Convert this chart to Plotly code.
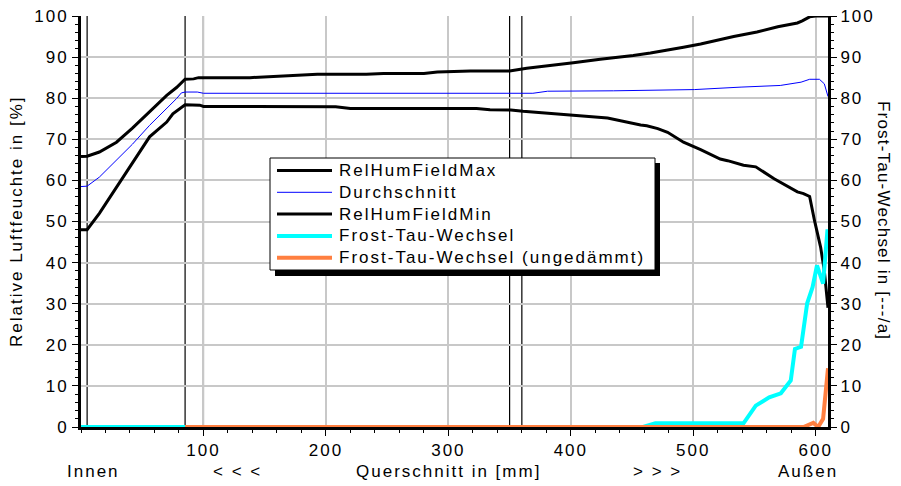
import plotly.graph_objects as go

# ---------------- data ----------------
series_names = ["RelHumFieldMax", "Durchschnitt", "RelHumFieldMin",
                "Frost-Tau-Wechsel", "Frost-Tau-Wechsel (ungedämmt)"]

x_max = [0, 5, 15, 29, 42, 56, 70, 78, 85, 92, 96, 100, 138, 193, 233, 247, 280, 291, 318,
         350, 355, 364, 402, 424, 451, 465, 492, 506, 533, 552, 569, 585, 589, 595, 600, 610]
y_max = [65.8, 65.9, 66.9, 69.3, 72.7, 76.6, 80.7, 82.6, 84.6, 84.7, 85.0, 85.0, 85.0, 85.8, 85.8,
         86.0, 86.0, 86.4, 86.6, 86.6, 86.8, 87.3, 88.6, 89.5, 90.4, 91.0, 92.4, 93.2, 95.0,
         96.1, 97.4, 98.3, 98.8, 99.8, 100.0, 100.0]

x_avg = [0, 5, 15, 29, 42, 56, 70, 78, 82, 85, 95, 98, 100, 369, 381, 435, 495, 501, 539,
         571, 588, 595, 603, 607, 610]
y_avg = [58.5, 58.6, 60.8, 64.9, 68.8, 73.4, 77.5, 79.9, 81.3, 81.5, 81.5, 81.4, 81.2, 81.2,
         81.7, 81.8, 82.1, 82.1, 82.7, 83.1, 83.9, 84.6, 84.6, 83.5, 80.4]

x_min = [0, 5, 15, 29, 42, 56, 70, 75, 85, 97, 100, 200, 208, 220, 323, 334, 351, 361, 383,
         402, 424, 430, 457, 462, 471, 479, 492, 506, 522, 528, 541, 551, 566, 585, 590, 595,
         599, 604, 607, 610]
y_min = [48.0, 48.0, 52.0, 58.4, 64.5, 70.6, 74.2, 76.2, 78.4, 78.3, 78.0, 78.0, 77.9, 77.5,
         77.5, 77.2, 77.1, 76.8, 76.3, 76.0, 75.5, 75.2, 73.5, 73.3, 72.6, 71.7, 69.3, 67.5,
         65.2, 64.8, 63.7, 63.3, 60.4, 57.2, 56.8, 56.1, 50.2, 43.7, 38.0, 29.0]

x_ftw = [0, 459, 469, 541, 551, 562, 571.5, 579.6, 583, 588, 593, 597.4, 601, 606, 609.6]
y_ftw = [0, 0, 0.9, 0.9, 5.2, 7.2, 8.2, 11.3, 19.0, 19.5, 30.1, 34.0, 39.3, 34.9, 48.1]

x_ftw_u = [85, 590, 598, 602, 606, 610]
y_ftw_u = [0, 0, 1.0, 0, 2.0, 14.3]

layer_bounds = [5, 85, 100, 350, 360]

x_ticks = [100, 200, 300, 400, 500, 600]
y_ticks = list(range(0, 101, 10))

bottom_labels = ["Innen", "< < <", "Querschnitt in [mm]", "> > >", "Außen"]
bottom_label_pos = [10, 128, 300, 471, 594]

left_title = "Relative Luftfeuchte in [%]"
right_title = "Frost-Tau-Wechsel in [---/a]"

# ---------------- figure ----------------
FONT = "Liberation Sans, Arial, sans-serif"
FS = 17


def sp(t, ls=2):
    """wide letter spacing like the original chart"""
    return f'<span style="letter-spacing:{ls}px">{t}</span>'


fig = go.Figure()

styles = [
    dict(color="black", width=3),
    dict(color="#0000ff", width=1),
    dict(color="black", width=3),
    dict(color="#00ffff", width=4),
    dict(color="#ff7f40", width=4),
]
xs = [x_max, x_avg, x_min, x_ftw, x_ftw_u]
ys = [y_max, y_avg, y_min, y_ftw, y_ftw_u]
axes = ["y", "y", "y", "y2", "y2"]
for name, xv, yv, st, ax in zip(series_names, xs, ys, styles, axes):
    fig.add_trace(go.Scatter(x=xv, y=yv, mode="lines", name=name, line=st, yaxis=ax,
                             showlegend=False))

# layer boundary lines
for xb in layer_bounds:
    fig.add_shape(type="line", xref="x", yref="paper", x0=xb, x1=xb, y0=0, y1=1,
                  line=dict(color="black", width=1.2), layer="between")

# page geometry: the page body has an 8px margin, so the figure is offset by 8px
OFF = 8
FIG_W, FIG_H = 901 - OFF, 486 - OFF
# plot area in page pixels
L, R, T, B = 81, 828, 16, 427
W, H = R - L, B - T


def px(x):
    return (x - L) / W


def py(y):
    return (B - y) / H


# legend: shadow, box, entries
fig.add_shape(type="rect", xref="paper", yref="paper", x0=px(275), x1=px(660),
              y0=py(276), y1=py(163), fillcolor="black", line=dict(width=0), layer="above")
fig.add_shape(type="rect", xref="paper", yref="paper", x0=px(270), x1=px(655),
              y0=py(270), y1=py(158), fillcolor="white", line=dict(color="black", width=1),
              layer="above")
row0, row_gap = 170.5, 21.8
for i, (name, st) in enumerate(zip(series_names, styles)):
    yrow = row0 + i * row_gap
    fig.add_shape(type="line", xref="paper", yref="paper", x0=px(277), x1=px(332),
                  y0=py(yrow), y1=py(yrow), line=st, layer="above")
    fig.add_annotation(text=sp(name, 2), x=px(337), y=py(yrow), xref="paper", yref="paper",
                       showarrow=False, xanchor="left", yanchor="middle",
                       font=dict(size=FS, color="black"))

for txt, xp in zip(bottom_labels, bottom_label_pos):
    fig.add_annotation(text=sp(txt), x=xp, y=py(471), xref="x", yref="paper", showarrow=False,
                       xanchor="center", yanchor="middle", font=dict(size=FS, color="black"))

fig.add_annotation(text=sp(left_title, 2), x=px(17), y=py(221), xref="paper", yref="paper",
                   showarrow=False, textangle=-90, xanchor="center", yanchor="middle",
                   font=dict(size=FS, color="black"))
fig.add_annotation(text=sp(right_title, 1.2), x=px(883), y=py(220), xref="paper", yref="paper",
                   showarrow=False, textangle=90, xanchor="center", yanchor="middle",
                   font=dict(size=FS, color="black"))

axis_common = dict(showline=True, linecolor="black", linewidth=3, ticks="outside",
                   ticklen=6, tickwidth=1, tickcolor="black", zeroline=False,
                   automargin=False, ticklabeloverflow="allow",
                   tickfont=dict(size=FS, color="black"))

fig.update_layout(
    width=FIG_W, height=FIG_H,
    margin=dict(l=L - OFF, r=FIG_W - (R - OFF), t=T - OFF, b=FIG_H - (B - OFF),
                autoexpand=False),
    paper_bgcolor="white", plot_bgcolor="white",
    font=dict(family=FONT, size=FS, color="black"),
    showlegend=False,
    xaxis=dict(range=[0, 610], tickvals=x_ticks, ticktext=[sp(v) for v in x_ticks],
               showgrid=True, gridcolor="#c8c8c8", gridwidth=1.5,
               minor=dict(dtick=20, ticks="outside", ticklen=3, tickcolor="black",
                          showgrid=False),
               **axis_common),
    yaxis=dict(range=[0, 100], tickvals=y_ticks, ticktext=[sp(v) for v in y_ticks],
               showgrid=True, gridcolor="#c8c8c8", gridwidth=1.5,
               minor=dict(dtick=2, ticks="outside", ticklen=3, tickcolor="black",
                          showgrid=False),
               **axis_common),
    yaxis2=dict(range=[0, 100], tickvals=y_ticks, ticktext=[sp(v) for v in y_ticks],
                overlaying="y", side="right", showgrid=False,
                minor=dict(dtick=2, ticks="outside", ticklen=3, tickcolor="black",
                           showgrid=False),
                **axis_common),
)

fig.write_html("out.html")
